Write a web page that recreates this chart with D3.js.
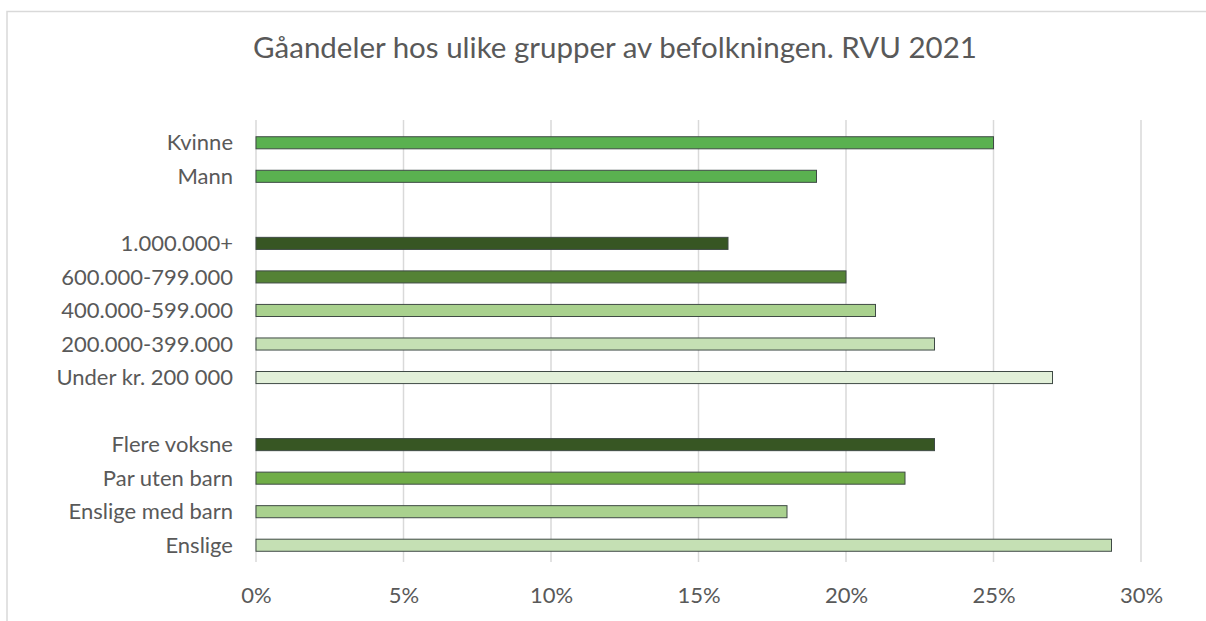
<!DOCTYPE html>
<html>
<head>
<meta charset="utf-8">
<script src="https://cdn.jsdelivr.net/npm/d3@7"></script>
<style>
    body { margin: 0; background: #fff; }
    svg { display: block; font-family: Lato, "Open Sans", sans-serif; }
</style>
</head>
<body>
<svg id="chart" width="1206" height="621"></svg>
<script>
// rows top to bottom, empty strings are spacer rows
const categories = ['Kvinne', 'Mann', '', '1.000.000+', '600.000-799.000', '400.000-599.000',
    '200.000-399.000', 'Under kr. 200 000', '', 'Flere voksne', 'Par uten barn',
    'Enslige med barn', 'Enslige'];
const values = [25, 19, null, 16, 20, 21, 23, 27, null, 23, 22, 18, 29];
const colors = ['#5AB150', '#5AB150', null, '#375623', '#548235', '#A9D18E', '#C5E0B4',
    '#E2F0D9', null, '#375623', '#70AD47', '#A9D18E', '#C5E0B4'];
const ticks = [0, 5, 10, 15, 20, 25, 30];
const title = 'Gåandeler hos ulike grupper av befolkningen. RVU 2021';

const svg = d3.select('#chart');
const margin = { left: 256, right: 65, top: 126, bottom: 59 };
const W = 1206, H = 621;

// chart frame
svg.append('path')
    .attr('d', `M7,${H} V11.5 H${W}`)
    .attr('fill', 'none')
    .attr('stroke', '#d9d9d9')
    .attr('stroke-width', 1.5);

svg.append('text')
    .attr('x', 615)
    .attr('y', 58)
    .attr('text-anchor', 'middle')
    .attr('font-size', 29.5)
    .attr('fill', '#595959')
    .text(title);

const x = d3.scaleLinear().domain([0, 30]).range([margin.left, W - margin.right]);
const y = d3.scaleBand().domain(d3.range(categories.length))
    .range([margin.top, H - margin.bottom]).paddingInner(0.64).paddingOuter(0.32);

// gridlines
svg.append('g')
    .selectAll('line')
    .data(ticks)
    .join('line')
    .attr('x1', d => x(d)).attr('x2', d => x(d))
    .attr('y1', 120).attr('y2', H - margin.bottom)
    .attr('stroke', '#d9d9d9')
    .attr('stroke-width', 1.5);

// bars
svg.append('g')
    .selectAll('rect')
    .data(d3.range(categories.length).filter(i => values[i] != null))
    .join('rect')
    .attr('x', x(0))
    .attr('y', i => y(i))
    .attr('width', i => x(values[i]) - x(0))
    .attr('height', y.bandwidth())
    .attr('fill', i => colors[i])
    .attr('stroke', '#3f4a45')
    .attr('stroke-width', 1);

// category labels
svg.append('g')
    .selectAll('text')
    .data(d3.range(categories.length))
    .join('text')
    .attr('x', 233)
    .attr('y', i => y(i) + y.bandwidth() / 2)
    .attr('dy', '0.35em')
    .attr('text-anchor', 'end')
    .attr('font-size', 22)
    .attr('fill', '#595959')
    .text(i => categories[i]);

// x axis
const xAxis = d3.axisBottom(x).tickValues(ticks).tickFormat(d => d + '%').tickSize(0).tickPadding(25);
const ax = svg.append('g')
    .attr('transform', `translate(0,${H - margin.bottom})`)
    .call(xAxis);
ax.select('.domain').remove();
ax.selectAll('text')
    .attr('font-size', 22)
    .attr('font-family', 'Lato, "Open Sans", sans-serif')
    .attr('fill', '#595959');
</script>
</body>
</html>
